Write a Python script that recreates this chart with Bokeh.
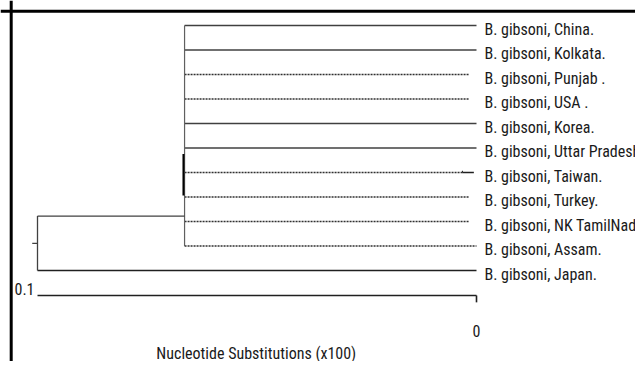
from bokeh.plotting import figure
from bokeh.models import Range1d, Span, ColumnDataSource
from bokeh.core.properties import value
from bokeh.embed import file_html
from bokeh.resources import INLINE

# ---- data ----
labels = ["B. gibsoni, China.", "B. gibsoni, Kolkata.", "B. gibsoni, Punjab .",
          "B. gibsoni, USA .", "B. gibsoni, Korea.", "B. gibsoni, Uttar Pradesh",
          "B. gibsoni, Taiwan.", "B. gibsoni, Turkey.", "B. gibsoni, NK TamilNadu",
          "B. gibsoni, Assam.", "B. gibsoni, Japan."]
rows = list(range(len(labels)))
tip_end = [0.0, 0.0, 0.0018, 0.0018, 0.0, 0.0, 0.0032, 0.0018, 0.0018, 0.0, 0.0]
dotted = [False, False, True, True, False, False, True, True, True, True, False]
root_dist = 0.1
clade_dist = 0.0665
clade_join_row = 7.78
subclade_rows = (5.24, 6.94)
scale_left = 0.1
scale_right = 0.0
scale_ticks = ["0.1", "0"]
axis_title = "Nucleotide Substitutions (x100)"

FONT = "Roboto Condensed"
FS = "16px"

p = figure(width=635, height=361, output_backend="svg", toolbar_location=None,
           x_range=Range1d(0.108428, -0.036219), y_range=Range1d(13.714, -1.0204),
           min_border=0, outline_line_color=None)
p.axis.visible = False
p.grid.visible = False
p.background_fill_color = "white"

# frame (top and left edges)
p.add_layout(Span(location=-0.584, dimension="width", line_color="black", line_width=3))
p.add_layout(Span(location=0.10599, dimension="height", line_color="black", line_width=3))

clade_tips = [i for i in rows if i != 10]
solid = [i for i in clade_tips if not dotted[i]]
dots = [i for i in clade_tips if dotted[i]]

line_col = "#404040"
p.segment(x0=[clade_dist] * len(solid), y0=solid, x1=[tip_end[i] for i in solid], y1=solid,
          line_color=line_col, line_width=1.6)
p.segment(x0=[clade_dist] * len(dots), y0=dots, x1=[tip_end[i] for i in dots], y1=dots,
          line_color="#303030", line_width=1.3, line_dash="2 1")
# Taiwan solid stub
p.segment(x0=[tip_end[6]], y0=[6], x1=[0.0006], y1=[6], line_color="#202020", line_width=1.6)
p.segment(x0=[tip_end[6]], y0=[5.93], x1=[tip_end[6]], y1=[6], line_color="#202020", line_width=1)
# Japan
p.segment(x0=[root_dist], y0=[10], x1=[tip_end[10]], y1=[10], line_color="#202020", line_width=1.6)
# clade vertical
p.segment(x0=[clade_dist], y0=[0], x1=[clade_dist], y1=[9], line_color="#606060", line_width=1.2)
p.segment(x0=[clade_dist + 0.00025], y0=[subclade_rows[0]], x1=[clade_dist + 0.00025], y1=[subclade_rows[1]],
          line_color="black", line_width=2)
# clade join
p.segment(x0=[root_dist], y0=[clade_join_row], x1=[clade_dist], y1=[clade_join_row],
          line_color=line_col, line_width=1.3)
# root vertical and stub
p.segment(x0=[root_dist], y0=[clade_join_row], x1=[root_dist], y1=[10], line_color=line_col, line_width=1.3)
mid = (clade_join_row + 10) / 2
p.segment(x0=[root_dist + 0.0012], y0=[mid], x1=[root_dist], y1=[mid], line_color=line_col, line_width=1.3)

# tip labels
src = ColumnDataSource(dict(x=[-0.0018] * len(labels), y=[r + 0.15 for r in rows], t=labels))
p.text(x="x", y="y", text="t", source=src, text_font=value(FONT), text_font_size=FS,
       text_color="#1a1a1a", text_baseline="middle", text_align="left")

# scale bar
p.segment(x0=[scale_left], y0=[11.02], x1=[scale_right], y1=[11.02], line_color="#202020", line_width=1.6)
p.segment(x0=[scale_right], y0=[11.02], x1=[scale_right], y1=[11.3], line_color="#202020", line_width=1.6)
p.text(x=[0.10068], y=[10.75], text=[scale_ticks[0]], text_font=value(FONT),
       text_font_size=FS, text_color="#1a1a1a", text_align="right", text_baseline="middle")
p.text(x=[scale_right], y=[12.45], text=[scale_ticks[1]], text_font=value(FONT),
       text_font_size=FS, text_color="#1a1a1a", text_align="center", text_baseline="middle")
p.text(x=[0.05016], y=[13.37], text=[axis_title], text_font=value(FONT),
       text_font_size=FS, text_color="#1a1a1a", text_align="center", text_baseline="middle")

open("out.html", "w").write(file_html(p, INLINE))
